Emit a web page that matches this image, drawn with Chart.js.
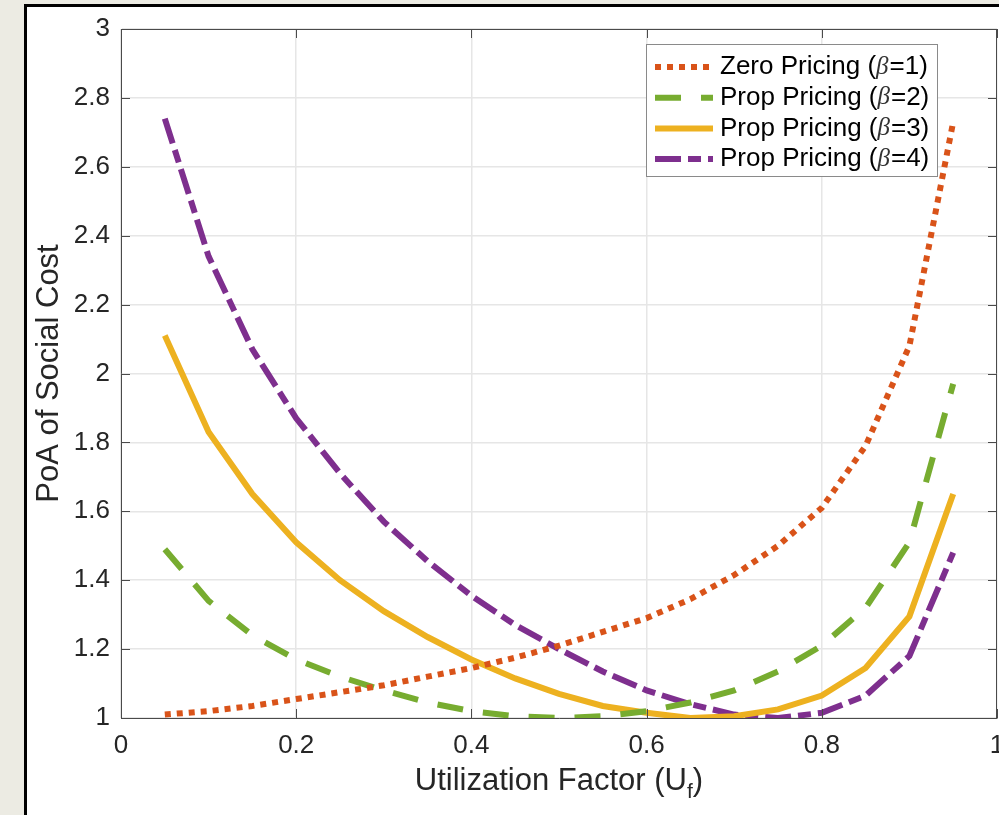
<!DOCTYPE html>
<html>
<head>
<meta charset="utf-8">
<script src="https://cdn.jsdelivr.net/npm/chart.js@4"></script>
<style>
  html, body { margin: 0; padding: 0; background: #ecebe3; overflow: hidden; }
  #frame {
    position: absolute; left: 24px; top: 4px; width: 1000px; height: 900px;
    background: #fff; border: 3px solid #000;
  }
  #chart { position: absolute; left: 0; top: 0; }
  #xtitle {
    position: absolute; left: 309px; top: 762px; width: 500px; text-align: center;
    font: 31px "Liberation Sans", Arial, sans-serif; line-height: 36px; color: #262626;
  }
  #xtitle sub { font-size: 21px; vertical-align: -8px; line-height: 0; }
</style>
</head>
<body>
<div id="frame"></div>
<canvas id="chart" width="999" height="815"></canvas>
<div id="xtitle">Utilization Factor (U<sub>f</sub>)</div>
<script>
document.addEventListener("DOMContentLoaded", () => {

  const canvas = document.getElementById("chart");

  // utilization factor, 0.05 .. 0.95
  const xs = [0.05, 0.1, 0.15, 0.2, 0.25, 0.3, 0.35, 0.4, 0.45, 0.5,
              0.55, 0.6, 0.65, 0.7, 0.75, 0.8, 0.85, 0.9, 0.95];

  const zeroPricing = [1.01, 1.02, 1.035, 1.055, 1.075, 1.095, 1.12, 1.145, 1.175, 1.21,
                       1.25, 1.29, 1.345, 1.415, 1.5, 1.61, 1.79, 2.08, 2.73];
  const propBeta2 = [1.49, 1.34, 1.24, 1.17, 1.12, 1.08, 1.045, 1.02, 1.005, 1.0,
                     1.005, 1.02, 1.045, 1.08, 1.135, 1.21, 1.32, 1.51, 1.97];
  const propBeta3 = [2.11, 1.83, 1.65, 1.51, 1.40, 1.31, 1.235, 1.17, 1.115, 1.07,
                     1.035, 1.015, 1.0, 1.005, 1.025, 1.065, 1.145, 1.295, 1.65];
  const propBeta4 = [2.74, 2.34, 2.07, 1.87, 1.71, 1.57, 1.455, 1.355, 1.27, 1.2,
                     1.135, 1.08, 1.04, 1.01, 1.0, 1.015, 1.065, 1.18, 1.48];

  const seriesNames = ["Zero Pricing (\u03B2=1)", "Prop Pricing (\u03B2=2)",
                       "Prop Pricing (\u03B2=3)", "Prop Pricing (\u03B2=4)"];

  const xTicks = ["0", "0.2", "0.4", "0.6", "0.8", "1"];
  const yTicks = ["1", "1.2", "1.4", "1.6", "1.8", "2", "2.2", "2.4", "2.6", "2.8", "3"];

  const FONT = "'Liberation Sans', Arial, sans-serif";
  const AXIS = "#4a4a4a";

  const pts = arr => xs.map((x, i) => ({ x, y: arr[i] }));

  const mk = (label, arr, color, dash) => ({
    label,
    data: pts(arr),
    borderColor: color,
    backgroundColor: color,
    borderWidth: 6,
    borderDash: dash,
    borderCapStyle: "butt",
    pointRadius: 0,
    tension: 0,
    fill: false
  });

  // MATLAB style box + inward ticks
  const boxTicks = {
    id: "boxTicks",
    afterDraw(chart) {
      const { ctx, chartArea: a, scales } = chart;
      ctx.save();
      ctx.strokeStyle = AXIS;
      ctx.lineWidth = 1;
      ctx.beginPath();
      ctx.moveTo(a.left, a.top + 0.5); ctx.lineTo(a.right, a.top + 0.5);
      ctx.moveTo(a.right - 0.5, a.top); ctx.lineTo(a.right - 0.5, a.bottom);
      scales.y.ticks.forEach(t => {
        const py = Math.round(scales.y.getPixelForValue(t.value)) + 0.5;
        ctx.moveTo(a.left, py); ctx.lineTo(a.left + 9, py);
        ctx.moveTo(a.right, py); ctx.lineTo(a.right - 9, py);
      });
      scales.x.ticks.forEach(t => {
        const px = Math.round(scales.x.getPixelForValue(t.value)) + 0.5;
        ctx.moveTo(px, a.bottom); ctx.lineTo(px, a.bottom - 9);
        ctx.moveTo(px, a.top); ctx.lineTo(px, a.top + 9);
      });
      ctx.stroke();
      ctx.restore();
    }
  };

  // legend box inside the plot, top right
  const boxLegend = {
    id: "boxLegend",
    afterDraw(chart) {
      const ctx = chart.ctx;
      const x0 = 646, y0 = 44, w = 291, h = 132, row = 30.7;
      ctx.save();
      ctx.fillStyle = "#fff";
      ctx.fillRect(x0, y0, w, h);
      ctx.strokeStyle = "#8a8a8a";
      ctx.lineWidth = 1;
      ctx.strokeRect(x0 + 0.5, y0 + 0.5, w, h);
      chart.data.datasets.forEach((ds, i) => {
        const cy = y0 + 23 + i * row;
        ctx.save();
        ctx.strokeStyle = ds.borderColor;
        ctx.lineWidth = ds.borderWidth;
        ctx.setLineDash(ds.borderDash || []);
        ctx.lineCap = "butt";
        ctx.beginPath();
        ctx.moveTo(655, cy); ctx.lineTo(713, cy);
        ctx.stroke();
        ctx.restore();

        const parts = ds.label.split("\u03B2");
        let tx = 720;
        ctx.fillStyle = "#000";
        ctx.textBaseline = "middle";
        ctx.font = "26px " + FONT;
        ctx.fillText(parts[0], tx, cy);
        tx += ctx.measureText(parts[0]).width;
        ctx.font = "italic 25px 'Liberation Serif', serif";
        ctx.fillStyle = "#333";
        ctx.fillText("\u03B2", tx, cy);
        tx += ctx.measureText("\u03B2").width + 1;
        ctx.font = "26px " + FONT;
        ctx.fillStyle = "#000";
        ctx.fillText(parts[1], tx, cy);
      });
      ctx.restore();
    }
  };

  new Chart(canvas, {
    type: "line",
    data: {
      datasets: [
        mk(seriesNames[0], zeroPricing, "#D95319", [6, 6]),
        mk(seriesNames[1], propBeta2, "#77AC30", [26, 20]),
        mk(seriesNames[2], propBeta3, "#EDB120", []),
        mk(seriesNames[3], propBeta4, "#7E2F8E", [26, 7, 13, 7])
      ]
    },
    options: {
      responsive: false,
      animation: false,
      devicePixelRatio: 1,
      layout: { padding: { top: 29, right: 2, left: 0, bottom: 0 } },
      plugins: {
        legend: { display: false },
        tooltip: { enabled: false }
      },
      scales: {
        x: {
          type: "linear",
          min: 0,
          max: 1,
          ticks: {
            stepSize: 0.2,
            color: "#262626",
            font: { family: FONT, size: 26 },
            padding: 12,
            maxRotation: 0,
            callback: (v, i) => xTicks[i]
          },
          grid: { color: "#e6e6e6", lineWidth: 1.5, drawTicks: false },
          border: { display: true, color: AXIS, width: 1 },
          afterFit(scale) {
            scale.height = 97;
            scale.paddingLeft = 0;
            scale.paddingRight = 0;
          }
        },
        y: {
          min: 1,
          max: 3,
          ticks: {
            stepSize: 0.2,
            color: "#262626",
            font: { family: FONT, size: 26 },
            padding: 11,
            callback: (v, i) => yTicks[i]
          },
          grid: { color: "#e6e6e6", lineWidth: 1.5, drawTicks: false },
          border: { display: true, color: AXIS, width: 1 },
          title: {
            display: true,
            text: "PoA of Social Cost",
            color: "#262626",
            font: { family: FONT, size: 31 },
            padding: { top: 31, bottom: 0 }
          },
          afterFit(scale) {
            scale.width = 121;
          }
        }
      }
    },
    plugins: [boxTicks, boxLegend]
  });

});
</script>
</body>
</html>
